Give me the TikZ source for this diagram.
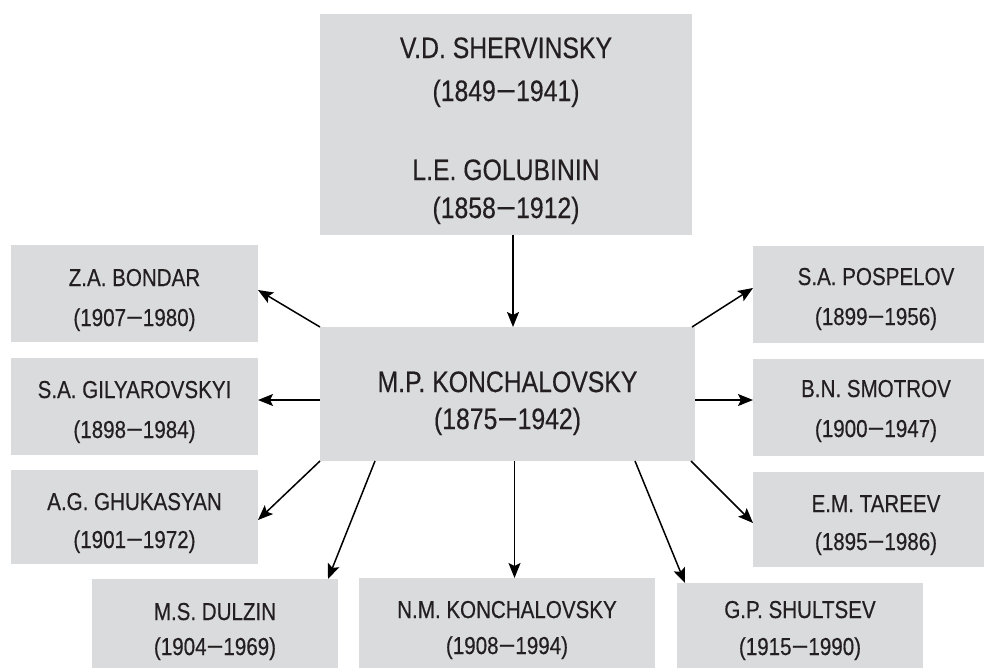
\documentclass[tikz,border=0pt]{standalone}
\usepackage{fontspec}
\setmainfont{Liberation Sans}[FakeStretch=0.84,FakeBold=0.4]
\usetikzlibrary{arrows.meta}
\definecolor{boxgray}{RGB}{218,219,221}
\definecolor{ink}{RGB}{35,31,32}
\newcommand\yrdash{\scalebox{1.4}[1]{−}}
\tikzset{
  box/.style={fill=boxgray, draw=none, inner sep=0pt, outer sep=0pt, anchor=north west, rectangle},
  smalltxt/.style={font=\fontsize{24.5}{28}\selectfont, text=ink, anchor=base, inner sep=0pt},
  bigtxt/.style={font=\fontsize{29.5}{34}\selectfont, text=ink, anchor=base, inner sep=0pt},
  conn/.style={draw=black, line width=1.5pt, -{Stealth[length=15pt,width=12pt,inset=3pt]}},
}
\begin{document}
\begin{tikzpicture}[x=1pt,y=-1pt]
\useasboundingbox (0,0) rectangle (984,667);
% boxes
\node[box, minimum width=372pt, minimum height=221pt] (top) at (320,14) {};
\node[box, minimum width=375pt, minimum height=134pt] (c) at (320,327) {};
\node[box, minimum width=247pt, minimum height=97pt] (bondar) at (11,245) {};
\node[box, minimum width=247pt, minimum height=97pt] (gily) at (11,358) {};
\node[box, minimum width=247pt, minimum height=94pt] (ghuk) at (11,470) {};
\node[box, minimum width=247pt, minimum height=97pt] (pos) at (753,246) {};
\node[box, minimum width=247pt, minimum height=97pt] (smo) at (753,359) {};
\node[box, minimum width=247pt, minimum height=95pt] (tar) at (753,472) {};
\node[box, minimum width=246pt, minimum height=100pt] (dul) at (92,579) {};
\node[box, minimum width=296pt, minimum height=100pt] (nm) at (359,578) {};
\node[box, minimum width=246pt, minimum height=100pt] (gp) at (677,583) {};
% texts
\node[bigtxt] (t1) at (506,58) {V.D. SHERVINSKY};
\node[bigtxt] (t2) at (506,101) {(1849\yrdash1941)};
\node[bigtxt] (t3) at (506,180) {L.E. GOLUBININ};
\node[bigtxt] (t4) at (506,218) {(1858\yrdash1912)};
\node[bigtxt] (c1) at (507.5,392) {M.P. KONCHALOVSKY};
\node[bigtxt] (c2) at (507.5,429) {(1875\yrdash1942)};
\node[smalltxt] (b1) at (134.5,286) {Z.A. BONDAR};
\node[smalltxt] (b2) at (134.5,326) {(1907\yrdash1980)};
\node[smalltxt] (g1) at (134.5,398) {S.A. GILYAROVSKYI};
\node[smalltxt] (g2) at (134.5,438) {(1898\yrdash1984)};
\node[smalltxt] (h1) at (134.5,510) {A.G. GHUKASYAN};
\node[smalltxt] (h2) at (134.5,548) {(1901\yrdash1972)};
\node[smalltxt] (p1) at (876,285) {S.A. POSPELOV};
\node[smalltxt] (p2) at (876,325) {(1899\yrdash1956)};
\node[smalltxt] (s1) at (876,397) {B.N. SMOTROV};
\node[smalltxt] (s2) at (876,437) {(1900\yrdash1947)};
\node[smalltxt] (e1) at (876,512) {E.M. TAREEV};
\node[smalltxt] (e2) at (876,550) {(1895\yrdash1986)};
\node[smalltxt] (d1) at (215,620) {M.S. DULZIN};
\node[smalltxt] (d2) at (215,655) {(1904\yrdash1969)};
\node[smalltxt] (n1) at (507,618) {N.M. KONCHALOVSKY};
\node[smalltxt] (n2) at (507,654) {(1908\yrdash1994)};
\node[smalltxt] (q1) at (800,618) {G.P. SHULTSEV};
\node[smalltxt] (q2) at (800,655) {(1915\yrdash1990)};
% connectors
\draw[conn] ([xshift=7pt]top.south) -- ([xshift=7pt]top.south |- c.north);
\draw[conn] (c.north west) -- ([yshift=3.5pt]bondar.east);
\draw[conn] ([yshift=-6pt]c.west) -- ([yshift=-6pt]c.west -| gily.east);
\draw[conn] (c.south west) -- ([yshift=-3pt]ghuk.east);
\draw[conn] ([xshift=55pt]c.south west) -- ([xshift=-10pt]dul.north east);
\draw[conn] ([xshift=7pt]c.south) -- ([xshift=7pt]c.south |- nm.north);
\draw[conn] ([xshift=-60pt]c.south east) -- ([xshift=8pt]gp.north west);
\draw[conn] ([xshift=-4pt]c.south east) -- ([yshift=-3.5pt]tar.west);
\draw[conn] ([yshift=-6pt]c.east) -- ([yshift=-6pt]c.east -| smo.west);
\draw[conn] ([xshift=-3pt]c.north east) -- ([yshift=6.5pt]pos.west);
\end{tikzpicture}
\end{document}
